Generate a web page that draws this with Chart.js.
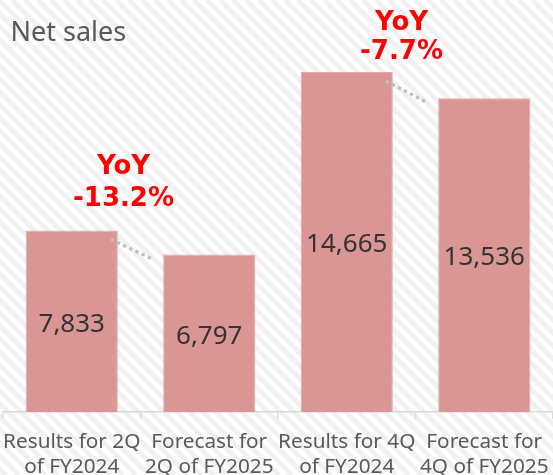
<!DOCTYPE html>
<html>
<head>
<meta charset="utf-8">
<script src="https://cdn.jsdelivr.net/npm/chart.js@4"></script>
<style>
  html, body { margin: 0; padding: 0; overflow: hidden; background: #fff; }
  #wrap { width: 553px; height: 475px; position: relative; }
</style>
</head>
<body>
<div id="wrap"><canvas id="c" width="553" height="475"></canvas></div>
<script>
const chartTitle = "Net sales";
const categories = [
  ["Results for 2Q", "of FY2024"],
  ["Forecast for", "2Q of FY2025"],
  ["Results for 4Q", "of FY2024"],
  ["Forecast for", "4Q of FY2025"]
];
const netSales = [7833, 6797, 14665, 13536];
const yoyLabels = [["YoY", "-13.2%"], ["YoY", "-7.7%"]];
const yoyPairs = [[0, 1], [2, 3]];

const FONT = "'Noto Sans', 'DejaVu Sans', sans-serif";
const BOLDFONT = "'DejaVu Sans', 'Noto Sans', sans-serif";

const bgPlugin = {
  id: 'bg',
  beforeDraw(chart) {
    const ctx = chart.ctx, W = chart.width, H = chart.height;
    ctx.save();
    ctx.fillStyle = '#ffffff';
    ctx.fillRect(0, 0, W, H);
    ctx.strokeStyle = '#f1f1f1';
    ctx.lineWidth = 4.8;
    for (let k = -H - 20; k < W + 20; k += 13) {
      ctx.beginPath();
      ctx.moveTo(k, 0);
      ctx.lineTo(k + H, H);
      ctx.stroke();
    }
    ctx.fillStyle = '#595959';
    ctx.font = "27px " + FONT;
    ctx.textAlign = 'left';
    ctx.textBaseline = 'middle';
    ctx.fillText(chartTitle, 10.5, 33);
    ctx.restore();
  }
};

const overlayPlugin = {
  id: 'overlay',
  afterDatasetsDraw(chart) {
    const ctx = chart.ctx;
    const meta = chart.getDatasetMeta(0);
    const ys = chart.scales.y;
    ctx.save();
    ctx.fillStyle = '#333333';
    ctx.font = "26px " + FONT;
    ctx.textAlign = 'center';
    ctx.textBaseline = 'middle';
    meta.data.forEach((bar, i) => {
      const top = ys.getPixelForValue(netSales[i]);
      const base = ys.getPixelForValue(0);
      ctx.fillText(netSales[i].toLocaleString('en-US'), bar.x, (top + base) / 2 + 3);
    });
    const yoyOffsets = [[-63, -31], [-49, -20]];
    const yoyShift = [-17, -14];
    yoyPairs.forEach((pair, j) => {
      const a = meta.data[pair[0]], b = meta.data[pair[1]];
      const ay = ys.getPixelForValue(netSales[pair[0]]);
      const by = ys.getPixelForValue(netSales[pair[1]]);
      ctx.save();
      ctx.strokeStyle = '#bfbfbf';
      ctx.lineWidth = 3.2;
      ctx.setLineDash([3.4, 3.4]);
      ctx.beginPath();
      ctx.moveTo(a.x + a.width / 2 - 7, ay + 9);
      ctx.lineTo(b.x - b.width / 2 - 10, by + 5);
      ctx.stroke();
      ctx.restore();
      const cx = (a.x + b.x) / 2 + yoyShift[j];
      ctx.fillStyle = '#ff0000';
      ctx.font = "bold 26px " + BOLDFONT;
      ctx.fillText(yoyLabels[j][0], cx, ay + yoyOffsets[j][0]);
      ctx.fillText(yoyLabels[j][1], cx, ay + yoyOffsets[j][1]);
    });
    ctx.restore();
  }
};

new Chart(document.getElementById('c'), {
  type: 'bar',
  data: {
    labels: categories,
    datasets: [{
      data: netSales,
      backgroundColor: '#d99694',
      borderColor: '#e0a9a7',
      borderWidth: 1,
      categoryPercentage: 1,
      barPercentage: 0.67
    }]
  },
  options: {
    responsive: false,
    animation: false,
    devicePixelRatio: 1,
    layout: { padding: { left: 3, right: 0, top: 0, bottom: 0 } },
    plugins: { legend: { display: false }, tooltip: { enabled: false }, title: { display: false } },
    scales: {
      y: { display: false, min: 0, max: 17770 },
      x: {
        offset: true,
        grid: { display: true, offset: true, drawOnChartArea: false, drawTicks: true, tickLength: 7, color: '#d9d9d9', lineWidth: 1.5 },
        border: { display: true, color: '#d9d9d9', width: 1.5 },
        ticks: {
          color: '#595959',
          font: { family: FONT, size: 20.75, lineHeight: 1.16 },
          padding: 11.5,
          maxRotation: 0, minRotation: 0, autoSkip: false
        },
        afterFit(scale) { scale.height = 63; scale.paddingLeft = 0; scale.paddingRight = 0; }
      }
    }
  },
  plugins: [bgPlugin, overlayPlugin]
});
</script>
</body>
</html>
